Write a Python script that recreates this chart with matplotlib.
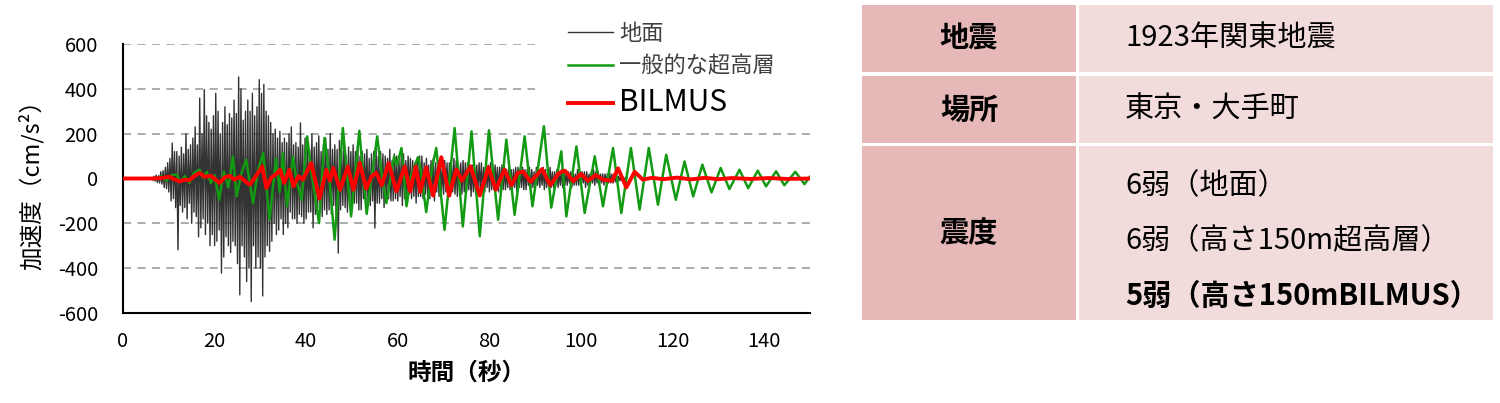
import matplotlib
matplotlib.use("Agg")
import matplotlib.pyplot as plt
import numpy as np
from matplotlib.patches import Rectangle

plt.rcParams['font.family'] = ['Noto Sans CJK JP', 'DejaVu Sans']
plt.rcParams['axes.unicode_minus'] = False

# ground acceleration (cm/s2), one value every 0.25 s from t = 6 s
ground_t0 = 6.0
ground_dt = 0.25
ground = [
    0, 5, -8, 10, -12, 15, -18, 12, -20, 30, -25, 35, -40, 50, -45, 70,
    -60, 90, -100, 158, -90, 120, -130, 120, -318, 100, -120, 140, -150, 110, -130, 200, -180, 130, -110, 150,
    -200, 180, -150, 230, -170, 150, -260, 359, -220, 200, -180, 396, -250, 280, -200, 250, -300, 220, -250, 280,
    -300, 380, -280, 300, -230, 200, -422, 250, -350, 320, -260, 240, -300, 290, -330, 270, -280, 350, -300, 290,
    -380, 453, -519, 400, -300, 260, -350, 300, -460, 350, -400, 300, -549, 380, -300, 280, -400, 320, -350, 441,
    -400, 380, -524, 420, -350, 300, -300, 280, -325, 250, -280, 200, -200, 220, -250, 180, -230, 210, -180, 160,
    -250, 180, -200, 160, -220, 200, -150, 230, -180, 150, -180, 160, -200, 140, -160, 248, -170, 150, -200, 180,
    -180, 170, -150, 130, -150, 200, -220, 140, -160, 160, -130, 190, -150, 120, -170, 150, -140, 180, -160, 130,
    -140, 200, -160, 130, -120, 150, -160, 130, -333, 170, -140, 120, -120, 160, -130, 100, -150, 140, -110, 120,
    -130, 150, -110, 120, -110, 160, -140, 100, -140, 120, -90, 110, -100, 130, -120, 90, -120, 110, -100, 120,
    -221, 140, -110, 100, -110, 120, -90, 110, -130, 100, -80, 90, -90, 130, -100, 80, -100, 110, -90, 100,
    -100, 90, -80, 100, -120, 110, -90, 80, -80, 100, -70, 90, -90, 80, -80, 70, -110, 90, -80, 100,
    -80, 100, -90, 70, -70, 90, -80, 60, -90, 80, -70, 90, -100, 70, -60, 80, -80, 90, -70, 60,
    -70, 80, -60, 70, -90, 70, -80, 60, -60, 90, -70, 80, -80, 60, -50, 70, -70, 80, -60, 70,
    -60, 70, -50, 60, -80, 60, -60, 50, -70, 60, -50, 70, -50, 70, -60, 50, -60, 50, -40, 60,
    -60, 70, -50, 40, -50, 60, -40, 50, -60, 50, -40, 60, -50, 60, -50, 40, -40, 50, -50, 40,
    -50, 40, -40, 50, -60, 50, -40, 40, -40, 50, -50, 40, -50, 40, -30, 50, -50, 40, -40, 30,
    -40, 50, -30, 40, -40, 40, -30, 50, -50, 40, -40, 30, -30, 50, -40, 30, -40, 30, -30, 40,
    -40, 30, -30, 40, -40, 40, -30, 30, -30, 30, -20, 30, -40, 30, -30, 20, -30, 40, -30, 30,
    -30, 30, -20, 30, -40, 30, -30, 20, -30, 30, -20, 40, -30, 30, -20, 30, -30, 20, -20, 20,
    -30, 20, -20, 20, -20, 30, -20, 20, -20, 20, -15, 10, -15, 10, -10, 10, -10, 5, -5, 5,
    0,
]

# typical high-rise (turning points)
tower_t = [0, 7, 8.5, 9.5, 10.5, 11.7, 12.5, 13.5, 14.5, 15.5, 16.7, 17.5, 18.3,
           19.2, 20, 21, 22, 23, 24, 24.8, 25.8, 26.9, 28.4, 29.5, 30.6, 32,
           33.4, 34.2, 34.9, 35.8, 37.1, 38.0, 39.0, 40.2, 41.2, 42.8, 44.0,
           44.8, 46.2, 48.0, 49.8, 51.6, 53.2, 55.5, 56.5, 57.5, 59.2, 59.8,
           60.8, 61.9, 63.0, 64.4, 65.0, 66.2, 67.5, 68.4, 70.2, 72.4, 74.2,
           76.1, 77.9, 79.9, 81.9, 83.7, 85.5, 87.7, 89.4, 91.9, 93.5, 95.7,
           96.8, 99.0, 100.8, 103.0, 104.8, 107.0, 108.8, 110.9, 112.8, 114.8,
           116.8, 118.6, 120.7, 122.6, 124.5, 126.5, 128.5, 130.5, 132.4,
           134.6, 136.5, 138.6, 140.4, 142.6, 144.4, 146.8, 148.8, 150]
tower = [0, 0, 10, -10, 15, 17, -15, 10, -20, 25, 40, 5, 30,
         -20, 15, -95, 30, -40, 99, -80, 20, 84, -110, 40, 114, -184,
         90, -60, 114, -124, 99, -20, -95, 188, 20, -199, 181,
         60, -273, 225, -169, 213, -158, 188, 20, -110, 99, 60,
         136, -124, 20, 95, 40, -150, 50, 136, -229, 225, -214,
         210, -258, 215, -184, 173, -162, 188, -124, 233, -130, 121,
         -169, 143, -154, 99, -124, 136, -154, 136, -139, 136,
         -117, 106, -95, 76, -80, 62, -62, 47, -47,
         39, -43, 35, -35, 32, -30, 30, -25, 8]

# BILMUS (turning points)
bilmus_t = [0, 6.5, 8.7, 10.2, 11, 12.4, 13.5, 14.5, 15.5, 16.7, 17.8, 19.2,
            20.2, 21.1, 22.2, 23.3, 24.3, 25.5, 26.5, 27.7, 29.0, 30.4, 31.3,
            32.4, 33.5, 34.3, 35.2, 36.3, 37.2, 38.3, 39.3, 41.1, 42.9, 44.4,
            45.2, 45.9, 47.4, 49.1, 50.3, 51.7, 53.1, 54.3, 55.3, 56.5, 58.0,
            59.7, 61.5, 62.7, 63.9, 64.9, 66.2, 67.7, 69.5, 71.2, 72.8, 74.0,
            75.9, 77.9, 79.8, 81.4, 83.3, 84.8, 86.2, 87.4, 89.0, 91.5, 93.3,
            95.2, 96.5, 98.3, 100.0, 101.5, 103.2, 104.8, 106.8, 108.1, 109.9,
            111.7, 113.5, 115.5, 118, 121, 124, 127, 130, 133, 137, 141, 145, 150]
bilmus = [0, 0, 3, 8, -2, -13, -5, -8, 10, 25, 8, 12,
          -5, -20, 5, 12, -5, 8, -10, -28, 10, 54, -42,
          5, 20, 39, -20, 39, -35, 10, -5, 69, -90, 39,
          -10, 47, -50, 54, -50, 69, -45, 10, 25, -30, 69,
          -57, 54, -57, 54, -60, 50, -76, 95, -76, 40, -10,
          54, -76, 50, -50, 40, -30, 25, 30, -15, 42, -30,
          25, 35, -12, 20, -10, 15, -5, -10, 45, -40,
          30, -5, 3, -3, 4, -4, 3, -3, 2, -2, 2, -2, 0]

legend_labels = ['地面', '一般的な超高層', 'BILMUS']
yticks = [-600, -400, -200, 0, 200, 400, 600]
grid_vals = [600, 400, 200, -200, -400]

table_head = ['地震', '場所', '震度']
table_rows = [['1923年関東地震'], ['東京・大手町'],
              ['6弱（地面）', '6弱（高さ150m超高層）', '5弱（高さ150mBILMUS）']]

fig = plt.figure(figsize=(15, 4.03), dpi=100)
ax = fig.add_axes([123 / 1500, 1 - 313 / 403, 687 / 1500, 269 / 403])

gt = ground_t0 + ground_dt * np.arange(len(ground))
gt = np.concatenate([[0], gt])
gv = np.concatenate([[0], ground])

ax.plot(gt, gv, color='#333333', lw=1.0, label=legend_labels[0], zorder=3)
ax.plot(tower_t, tower, color='#139a13', lw=1.8, label=legend_labels[1], zorder=4,
        solid_joinstyle='round')
ax.plot(bilmus_t, bilmus, color='#ff0000', lw=2.8, label=legend_labels[2], zorder=5,
        solid_joinstyle='round')

for g in grid_vals:
    xmax = 0.6 if g > 300 else 1.0
    ax.axhline(g, xmin=0, xmax=xmax, color='#a6a6a6', lw=1.3,
               ls=(0, (4.5, 3.5)), zorder=1)

ax.set_xlim(0, 150)
ax.set_ylim(-600, 600)
ax.set_yticks(yticks)
ax.set_xticks(range(0, 141, 20))
ax.tick_params(length=0, labelsize=14.5)
ax.tick_params(axis='x', pad=13)
ax.tick_params(axis='y', pad=18)
for s in ['top', 'right']:
    ax.spines[s].set_visible(False)
for s in ['left', 'bottom']:
    ax.spines[s].set_linewidth(1.5)
    ax.spines[s].set_color('#000000')

ax.set_ylabel('加速度（cm/s²）', fontsize=17, labelpad=10)
ax.set_xlabel('時間（秒）', fontsize=17, fontweight='bold', labelpad=6)

leg = ax.legend(loc='upper left', bbox_to_anchor=(557 / 1500, 1 - 11 / 403),
                bbox_transform=fig.transFigure, frameon=False, fontsize=16,
                handlelength=2.0, handletextpad=0.3, labelspacing=0.42,
                borderpad=0)
for t in leg.get_texts()[:2]:
    t.set_color('#404040')
leg.get_texts()[2].set_fontsize(21.5)

# info table
tax = fig.add_axes([862 / 1500, 1 - 320 / 403, 631 / 1500, 315 / 403])
tax.set_xlim(0, 631)
tax.set_ylim(315, 0)
tax.axis('off')
row_edges = [(0, 67), (71, 138), (141, 315)]
for (y0, y1), head, lines in zip(row_edges, table_head, table_rows):
    tax.add_patch(Rectangle((0, y0), 214, y1 - y0, color='#e6b9b8', lw=0))
    tax.add_patch(Rectangle((217, y0), 414, y1 - y0, color='#f2dcdb', lw=0))
    tax.text(107, (y0 + y1) / 2, head, ha='center', va='center',
             fontsize=21, fontweight='bold')
    n = len(lines)
    for i, line in enumerate(lines):
        if n == 1:
            yc = (y0 + y1) / 2
        else:
            yc = y0 + 40 + i * 55
        bold = 'bold' if i == 2 else 'normal'
        tax.text(263, yc, line, ha='left', va='center', fontsize=21,
                 fontweight=bold)

fig.savefig('out.png', dpi=100)
